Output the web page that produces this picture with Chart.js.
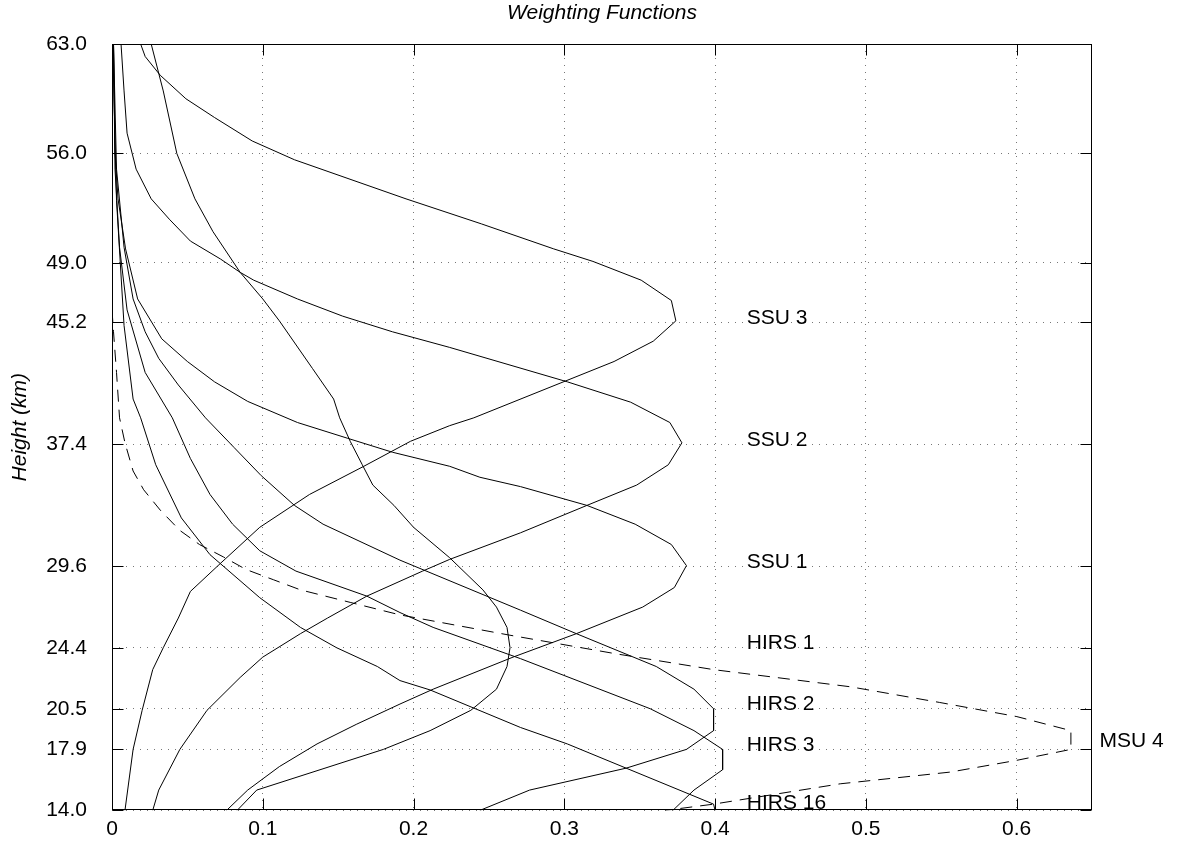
<!DOCTYPE html>
<html>
<head>
<meta charset="utf-8">
<title>Weighting Functions</title>
<script src="https://cdn.jsdelivr.net/npm/chart.js@4.4.0/dist/chart.umd.min.js"></script>
<style>
    html, body { margin: 0; padding: 0; background: #fff; }
</style>
</head>
<body>
<canvas id="wfChart" width="1178" height="848"></canvas>
<script>
// Weighting functions (height km / weight)

const chartTitle = 'Weighting Functions';
const xTicks = [0, 0.1, 0.2, 0.3, 0.4, 0.5, 0.6];
const yTicks = [14.0, 17.9, 20.5, 24.4, 29.6, 37.4, 45.2, 49.0, 56.0, 63.0];

const ssu3Height = [63.0, 62.2, 61.0, 59.5, 58.3, 56.8, 55.6, 53.1, 51.5, 49.9, 49.1, 47.9, 46.6, 45.3, 44.0, 42.7, 39.1, 38.6, 37.6, 36.0, 34.2, 32.1, 29.8, 28.0, 26.3, 24.4, 23.0, 20.4, 17.9, 14.0];
const ssu3Weight = [0.019, 0.022, 0.032, 0.049, 0.068, 0.093, 0.121, 0.195, 0.245, 0.293, 0.319, 0.351, 0.371, 0.374, 0.359, 0.333, 0.240, 0.224, 0.198, 0.167, 0.131, 0.098, 0.072, 0.052, 0.044, 0.034, 0.027, 0.020, 0.014, 0.0086];

const ssu2Height = [63.0, 60.0, 57.3, 55.0, 53.1, 51.8, 50.4, 49.25, 48.4, 47.9, 46.7, 45.6, 44.6, 43.6, 41.4, 40.1, 38.8, 37.5, 36.1, 34.8, 33.5, 31.75, 30.05, 29.3, 27.7, 26.3, 25.3, 23.8, 22.5, 20.4, 17.9, 15.3, 14.0];
const ssu2Weight = [0.006, 0.008, 0.010, 0.016, 0.026, 0.038, 0.052, 0.072, 0.085, 0.094, 0.123, 0.153, 0.186, 0.224, 0.302, 0.344, 0.370, 0.378, 0.369, 0.348, 0.315, 0.271, 0.224, 0.206, 0.169, 0.143, 0.125, 0.100, 0.085, 0.063, 0.045, 0.031, 0.027];

const ssu1Height = [63.0, 56.0, 53.1, 49.9, 46.7, 44.15, 42.7, 41.4, 40.15, 38.8, 37.8, 36.9, 36.0, 35.3, 34.7, 33.5, 32.3, 31.0, 29.65, 28.25, 27.0, 25.3, 23.8, 21.75, 20.8, 19.5, 18.25, 16.8, 15.3, 14.0];
const ssu1Weight = [0.001, 0.002, 0.004, 0.009, 0.017, 0.033, 0.050, 0.068, 0.090, 0.123, 0.156, 0.186, 0.224, 0.244, 0.271, 0.315, 0.347, 0.371, 0.381, 0.373, 0.352, 0.308, 0.266, 0.213, 0.191, 0.162, 0.136, 0.111, 0.090, 0.076];

const hirs1Height = [63.0, 60.0, 56.0, 53.1, 51.0, 48.4, 46.7, 45.3, 42.25, 40.3, 39.1, 37.6, 36.1, 34.8, 33.5, 32.1, 30.15, 28.1, 27.0, 25.7, 24.4, 23.2, 21.75, 20.4, 19.1, 17.9, 15.3, 14.0];
const hirs1Weight = [0.026, 0.034, 0.043, 0.055, 0.067, 0.085, 0.100, 0.111, 0.133, 0.147, 0.151, 0.158, 0.166, 0.173, 0.187, 0.200, 0.224, 0.246, 0.255, 0.262, 0.264, 0.262, 0.255, 0.238, 0.211, 0.180, 0.096, 0.083];

const hirs2Height = [63.0, 55.0, 50.0, 46.7, 44.6, 42.9, 41.2, 39.1, 37.2, 35.4, 33.5, 32.3, 30.0, 26.8, 25.3, 23.2, 21.75, 20.5, 19.1, 17.9, 16.7, 15.3, 14.0];
const hirs2Weight = [0.001, 0.003, 0.008, 0.014, 0.022, 0.031, 0.044, 0.062, 0.081, 0.099, 0.121, 0.140, 0.191, 0.271, 0.308, 0.361, 0.386, 0.399, 0.399, 0.381, 0.341, 0.277, 0.244];

const hirs3Height = [63.0, 55.0, 50.0, 46.0, 42.0, 39.1, 36.5, 34.2, 32.3, 30.6, 29.3, 27.7, 26.65, 25.7, 23.7, 20.5, 19.1, 17.9, 16.6, 15.3, 14.0];
const hirs3Weight = [0.001, 0.002, 0.005, 0.010, 0.022, 0.040, 0.052, 0.065, 0.080, 0.098, 0.122, 0.169, 0.191, 0.213, 0.271, 0.357, 0.386, 0.405, 0.405, 0.386, 0.372];

const hirs16Height = [63.0, 53.0, 45.0, 40.3, 39.1, 36.1, 32.7, 30.35, 27.6, 25.7, 24.4, 23.2, 22.3, 21.7, 19.3, 18.25, 14.4, 14.0];
const hirs16Weight = [0.0005, 0.003, 0.008, 0.014, 0.019, 0.029, 0.046, 0.065, 0.098, 0.125, 0.149, 0.176, 0.191, 0.211, 0.271, 0.302, 0.399, 0.400];

const msu4Height = [46.0, 44.6, 42.0, 39.1, 37.5, 35.7, 34.5, 33.2, 31.9, 31.0, 30.2, 29.4, 28.75, 28.1, 27.3, 26.5, 25.2, 24.0, 23.0, 21.9, 20.9, 20.0, 19.1, 17.9, 17.2, 16.45, 15.7, 14.4, 14.0];
const msu4Weight = [0, 0.001, 0.003, 0.005, 0.0086, 0.014, 0.021, 0.032, 0.045, 0.058, 0.074, 0.089, 0.107, 0.125, 0.158, 0.191, 0.264, 0.335, 0.399, 0.490, 0.549, 0.600, 0.636, 0.636, 0.600, 0.556, 0.483, 0.399, 0.367];

// Curve labels
const labelNames = ['SSU 3', 'SSU 2', 'SSU 1', 'HIRS 1', 'HIRS 2', 'HIRS 3', 'HIRS 16', 'MSU 4'];
const labelX = [0.421, 0.421, 0.421, 0.421, 0.421, 0.421, 0.421, 0.655];
const labelY = [45.5, 37.7, 29.9, 24.7, 20.8, 18.2, 14.45, 18.45];

const FONT = "'Liberation Sans', Arial, Helvetica, sans-serif";

function toPoints(heights, weights) {
    return heights.map((h, i) => ({ x: weights[i], y: h }));
}

function curve(name, heights, weights, dash) {
    return {
        label: name,
        data: toPoints(heights, weights),
        showLine: true,
        borderColor: '#000',
        borderWidth: 1,
        borderDash: dash || [],
        pointRadius: 0,
        tension: 0,
        fill: false
    };
}

// Frame with inward tick marks (gnuplot style), title and curve labels
const frameTicks = {
    id: 'frameTicks',
    afterDatasetsDraw(chart) {
        const { ctx, chartArea: a, scales } = chart;
        const L = Math.round(a.left) + 0.5, R = Math.round(a.right) - 0.5;
        const T = Math.round(a.top) + 0.5, B = Math.round(a.bottom) - 0.5;
        ctx.save();
        ctx.strokeStyle = '#000';
        ctx.lineWidth = 1;
        ctx.setLineDash([]);
        ctx.strokeRect(L, T, R - L, B - T);
        ctx.beginPath();
        const len = 11;
        xTicks.forEach(v => {
            const px = Math.round(scales.x.getPixelForValue(v)) + 0.5;
            ctx.moveTo(px, B); ctx.lineTo(px, B - len);
            ctx.moveTo(px, T); ctx.lineTo(px, T + len);
        });
        yTicks.forEach(v => {
            const py = Math.round(scales.y.getPixelForValue(v)) + 0.5;
            ctx.moveTo(L, py); ctx.lineTo(L + len, py);
            ctx.moveTo(R, py); ctx.lineTo(R - len, py);
        });
        ctx.stroke();
        ctx.restore();
    },
    afterDraw(chart) {
        const { ctx, scales, chartArea: a } = chart;
        ctx.save();
        ctx.fillStyle = '#000';
        ctx.textBaseline = 'middle';
        ctx.font = 'italic 21px ' + FONT;
        ctx.textAlign = 'center';
        ctx.fillText(chartTitle, (a.left + a.right) / 2, 13);
        ctx.font = '21px ' + FONT;
        ctx.textAlign = 'left';
        labelNames.forEach((t, i) => {
            ctx.fillText(t, scales.x.getPixelForValue(labelX[i]), scales.y.getPixelForValue(labelY[i]));
        });
        ctx.restore();
    }
};

const ctx = document.getElementById('wfChart').getContext('2d');
const chart = new Chart(ctx, {
    type: 'scatter',
    data: {
        datasets: [
            curve('SSU 3', ssu3Height, ssu3Weight),
            curve('SSU 2', ssu2Height, ssu2Weight),
            curve('SSU 1', ssu1Height, ssu1Weight),
            curve('HIRS 1', hirs1Height, hirs1Weight),
            curve('HIRS 2', hirs2Height, hirs2Weight),
            curve('HIRS 3', hirs3Height, hirs3Weight),
            curve('HIRS 16', hirs16Height, hirs16Weight),
            curve('MSU 4', msu4Height, msu4Weight, [12, 8])
        ]
    },
    options: {
        responsive: false,
        animation: false,
        layout: { padding: { left: 0, right: 86, top: 44, bottom: 0 } },
        plugins: {
            legend: { display: false },
            tooltip: { enabled: false },
            title: { display: false }
        },
        scales: {
            x: {
                type: 'linear',
                min: 0,
                max: 0.65,
                afterBuildTicks: s => { s.ticks = xTicks.map(v => ({ value: v })); },
                afterFit: s => { s.height = 34; },
                ticks: {
                    color: '#000',
                    font: { family: FONT, size: 21 },
                    padding: 6,
                    maxRotation: 0,
                    callback: v => (v === 0 ? '0' : v.toFixed(1))
                },
                grid: { color: '#777', lineWidth: 1, drawTicks: false },
                border: { display: false, dash: [1, 6] }
            },
            y: {
                type: 'linear',
                min: 14,
                max: 63,
                afterBuildTicks: s => { s.ticks = yTicks.map(v => ({ value: v })); },
                afterFit: s => { s.width = 112; },
                ticks: {
                    color: '#000',
                    font: { family: FONT, size: 21 },
                    padding: 25,
                    callback: v => v.toFixed(1)
                },
                grid: { color: '#777', lineWidth: 1, drawTicks: false },
                border: { display: false, dash: [1, 6] },
                title: {
                    display: true,
                    text: 'Height (km)',
                    color: '#000',
                    font: { family: FONT, size: 21, style: 'italic' },
                    padding: { top: 8, bottom: 0 }
                }
            }
        }
    },
    plugins: [frameTicks]
});
</script>
</body>
</html>
